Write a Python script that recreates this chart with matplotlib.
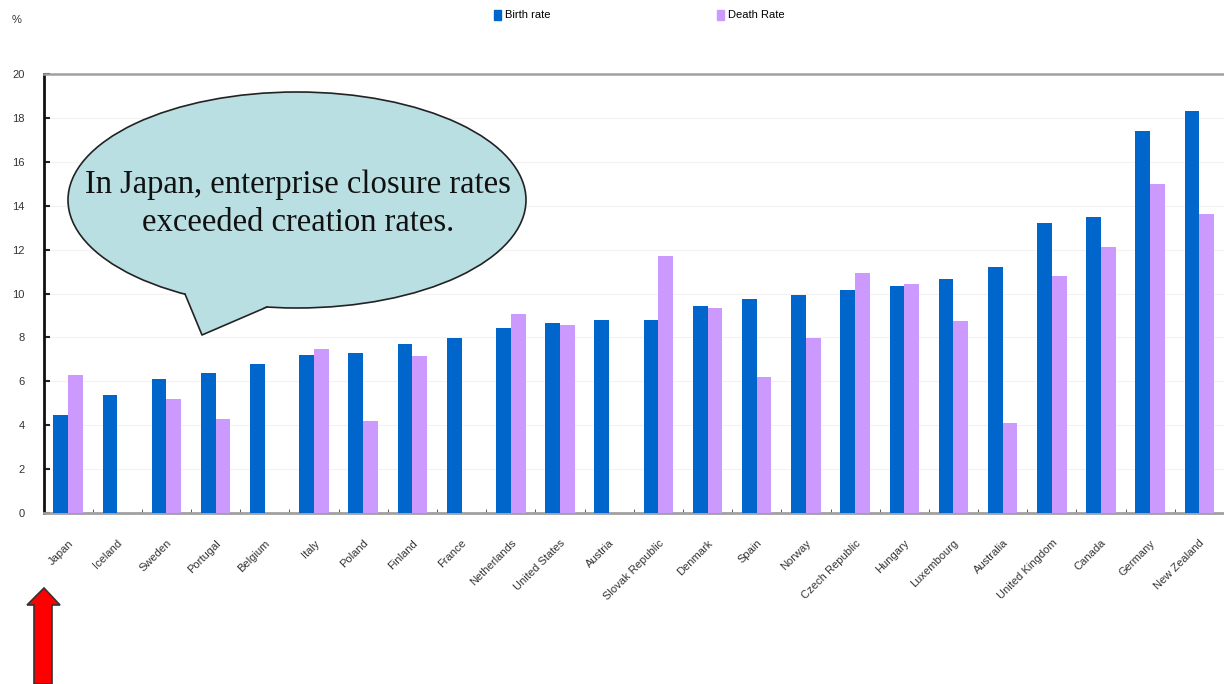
import matplotlib
matplotlib.use("Agg")
import matplotlib.pyplot as plt
import numpy as np
from matplotlib.patches import Ellipse, Polygon, Rectangle
from matplotlib.lines import Line2D
from matplotlib.transforms import Affine2D

# 国ごとの開業率・廃業率（%）
countries = ["Japan", "Iceland", "Sweden", "Portugal", "Belgium", "Italy", "Poland",
             "Finland", "France", "Netherlands", "United States", "Austria",
             "Slovak Republic", "Denmark", "Spain", "Norway", "Czech Republic",
             "Hungary", "Luxembourg", "Australia", "United Kingdom", "Canada",
             "Germany", "New Zealand"]
birth_rate = [4.45, 5.36, 6.09, 6.36, 6.77, 7.18, 7.27, 7.68, 7.95, 8.45, 8.64, 8.77,
              8.77, 9.45, 9.77, 9.95, 10.14, 10.32, 10.64, 11.23, 13.23, 13.5,
              17.4, 18.32]
death_rate = [6.27, np.nan, 5.18, 4.27, np.nan, 7.45, 4.18, 7.14, np.nan, 9.05, 8.55,
              np.nan, 11.73, 9.36, 6.18, 7.95, 10.95, 10.45, 8.73, 4.09, 10.82, 12.14,
              15.0, 13.64]
y_ticks = [0, 2, 4, 6, 8, 10, 12, 14, 16, 18, 20]

W, H = 1224, 684
blue = "#0066CC"
purple = "#CC99FF"

fig = plt.figure(figsize=(W / 100, H / 100), dpi=100)
ax = fig.add_axes([44 / W, 1 - 513 / H, 1 - 44 / W, (513 - 74) / H])

x = np.arange(len(countries))
w = 0.3
ax.bar(x - w / 2, birth_rate, width=w, color=blue, label="Birth rate", zorder=3)
ax.bar(x + w / 2, death_rate, width=w, color=purple, label="Death Rate", zorder=3)

ax.set_xlim(-0.49, 23.5)
ax.set_ylim(0, 20)
ax.set_yticks(y_ticks)
ax.set_yticklabels([str(t) for t in y_ticks], fontsize=8, color="#333333",
                   family="Liberation Sans")
ax.tick_params(axis="y", direction="in", length=4, width=1.5, pad=14, color="#222222")
ax.grid(axis="y", color="#f2f2f2", lw=0.8, zorder=0)

ax.set_xticks(x)
ax.set_xticklabels(countries, rotation=45, ha="right", rotation_mode="anchor",
                   fontsize=8, color="#333333", family="Liberation Sans")
ax.tick_params(axis="x", length=0, pad=18)
ax.set_xticks(x[:-1] + 0.5, minor=True)
ax.tick_params(axis="x", which="minor", direction="in", length=3, color="#444444")

ax.spines["left"].set_color("#111111")
ax.spines["left"].set_linewidth(2)
ax.spines["bottom"].set_color("#a0a0a0")
ax.spines["bottom"].set_linewidth(2)
ax.spines["top"].set_color("#a0a0a0")
ax.spines["top"].set_linewidth(1.8)
ax.spines["right"].set_visible(False)

fig.text(12 / W, 1 - 20 / H, "%", fontsize=8, color="#333333", va="center",
         family="Liberation Sans")

handles = [Rectangle((0, 0), 1, 1, color=blue), Rectangle((0, 0), 1, 1, color=purple)]
fig.legend(handles, ["Birth rate", "Death Rate"], loc="center left",
           bbox_to_anchor=(484 / W, 1 - 15 / H), ncol=2, frameon=False,
           handlelength=0.6, handleheight=1.0, handletextpad=0.4,
           columnspacing=15, prop={"family": "Liberation Sans", "size": 8})

# 吹き出し（ピクセル座標）
px = Affine2D().scale(1 / W, -1 / H).translate(0, 1) + fig.transFigure
bubble_fill = "#B9DFE3"
fig.patches.append(Ellipse((297, 200), 458, 216, transform=px, facecolor=bubble_fill,
                           edgecolor="#222222", lw=1.2, zorder=5))
fig.patches.append(Polygon([(185, 293), (202, 335), (267, 306), (230, 270)], closed=True,
                           transform=px, facecolor=bubble_fill, edgecolor="none", zorder=6))
fig.lines.append(Line2D([185, 202, 267], [294, 335, 307], transform=px,
                        color="#222222", lw=1.2, zorder=7))
fig.text(298 / W, 1 - 204 / H, "In Japan, enterprise closure rates\nexceeded creation rates.",
         ha="center", va="center", fontsize=23.5, family="Liberation Serif",
         color="#111111", linespacing=1.3, zorder=8)

# 赤い矢印
arrow = [(44, 588), (60, 605), (52, 605), (52, 684), (34, 684), (34, 605), (27, 605)]
fig.patches.append(Polygon(arrow, closed=True, transform=px, facecolor="#FF0000",
                           edgecolor="#333333", lw=1.2, zorder=5))

fig.savefig("out.png", dpi=100)
